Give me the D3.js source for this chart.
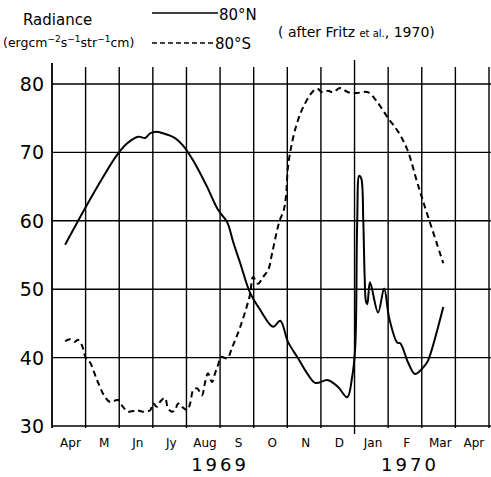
<!DOCTYPE html>
<html><head><meta charset="utf-8">
<script src="https://cdn.jsdelivr.net/npm/d3@7"></script>
<style>body{margin:0;background:#fff}svg{display:block}text{font-family:"DejaVu Sans",sans-serif;fill:#000}</style>
</head><body>
<script>
// month index: 0 = start of Apr 1969, 13 = end of Apr 1970
const monthLabels = ["Apr","M","Jn","Jy","Aug","S","O","N","D","Jan","F","Mar","Apr"];
const yTicks = [30,40,50,60,70,80];
const yearLabels = [{label:"1969", m:5.0},{label:"1970", m:10.65}];

const northMonth = [0.39,0.98,1.52,1.93,2.23,2.56,2.77,2.92,3.07,3.30,3.66,3.90,4.20,4.61,4.94,5.21,5.39,5.60,5.89,6.19,6.58,6.79,7.02,7.32,7.59,7.83,8.21,8.51,8.78,8.93,9.02,9.08,9.14,9.20,9.26,9.30,9.34,9.38,9.46,9.70,9.88,10.03,10.27,10.36,10.60,10.80,11.10,11.19,11.64];
const northValue = [56.5,61.8,66.4,69.6,71.3,72.3,72.1,72.8,73.0,72.8,72.1,71.0,68.8,65.0,61.6,59.8,56.9,53.8,49.5,47.0,44.5,45.4,42.3,39.9,37.7,36.3,36.7,35.7,34.2,37.2,41.5,60.0,66.6,66.2,60.0,52.0,48.2,47.8,51.0,46.6,50.1,45.8,42.2,42.1,39.2,37.6,38.9,39.6,47.4];

const southMonth = [0.39,0.54,0.68,0.77,0.89,1.01,1.13,1.34,1.58,1.73,1.96,2.11,2.26,2.53,2.71,2.92,3.01,3.12,3.21,3.36,3.45,3.57,3.66,3.75,3.87,4.02,4.11,4.20,4.32,4.46,4.55,4.64,4.76,4.85,4.94,5.03,5.21,5.36,5.60,5.89,5.98,6.13,6.28,6.43,6.55,6.70,6.79,6.88,6.96,7.02,7.14,7.29,7.47,7.74,7.89,8.04,8.21,8.36,8.57,8.81,9.08,9.40,9.67,10.00,10.30,10.57,10.86,11.01,11.64];
const southValue = [42.4,42.7,42.3,42.6,41.8,39.9,39.3,36.7,34.2,33.5,33.8,32.8,32.1,32.3,32.1,32.3,33.3,32.8,33.5,34.1,32.6,32.1,32.3,33.3,32.8,32.3,33.3,35.2,35.5,34.5,36.3,37.7,36.4,37.7,38.9,40.1,39.9,41.5,44.5,49.2,51.8,50.8,51.8,52.8,55.3,58.7,60.3,61.3,63.5,67.9,71.4,74.3,76.6,78.8,79.3,78.8,79.0,78.8,79.4,78.8,78.7,78.8,77.4,75.0,73.0,70.4,65.7,63.3,53.8];

const W = 491, H = 477;
const svg = d3.select("body").append("svg").attr("width", W).attr("height", H);

const x = d3.scaleLinear().domain([0, 13]).range([52, 489]);
const y = d3.scaleLinear().domain([30, 80]).range([426, 84]);

const g = svg.append("g").attr("stroke", "#000").attr("fill", "none");

// horizontal grid lines
g.selectAll(".h").data(yTicks).join("line")
  .attr("x1", x(0)).attr("x2", x(13)+2)
  .attr("y1", d => y(d)).attr("y2", d => y(d))
  .attr("stroke-width", 1.4);

// vertical grid lines (month boundaries)
const vlines = d3.range(0, 14);
g.selectAll(".v").data(vlines).join("line")
  .attr("x1", d => x(d)).attr("x2", d => x(d))
  .attr("y1", d => d === 0 ? 63 : (d === 9 ? 60 : 67))
  .attr("y2", d => d === 9 ? 434 : 428)
  .attr("stroke-width", d => d === 0 ? 1.8 : 1.4);

// y tick labels
svg.selectAll(".yl").data(yTicks).join("text")
  .attr("x", 44).attr("y", d => y(d) + 7)
  .attr("text-anchor", "end").attr("font-size", 19)
  .text(d => d);

// month labels
svg.selectAll(".ml").data(monthLabels).join("text")
  .attr("x", (d, i) => x(i + 0.55)).attr("y", 447)
  .attr("text-anchor", "middle").attr("font-size", 12)
  .text(d => d);

// year labels
svg.selectAll(".yr").data(yearLabels).join("text")
  .attr("x", d => x(d.m)).attr("y", 471)
  .attr("text-anchor", "middle").attr("font-size", 18).attr("letter-spacing", 3)
  .text(d => d.label);

const line = d3.line().x(d => x(d[0])).y(d => y(d[1])).curve(d3.curveCatmullRom.alpha(0.5));

svg.append("path")
  .attr("d", line(d3.zip(northMonth, northValue)))
  .attr("fill", "none").attr("stroke", "#000").attr("stroke-width", 2);

svg.append("path")
  .attr("d", line(d3.zip(southMonth, southValue)))
  .attr("fill", "none").attr("stroke", "#000").attr("stroke-width", 2)
  .attr("stroke-dasharray", "6,4");

// title / legend
svg.append("text").attr("x", 23).attr("y", 25).attr("font-size", 15).text("Radiance");
const unit = svg.append("text").attr("x", 3).attr("y", 47).attr("font-size", 12.5);
unit.append("tspan").text("(ergcm");
unit.append("tspan").attr("font-size", 9).attr("dy", -5).text("−2");
unit.append("tspan").attr("dy", 5).text("s");
unit.append("tspan").attr("font-size", 9).attr("dy", -5).text("−1");
unit.append("tspan").attr("dy", 5).text("str");
unit.append("tspan").attr("font-size", 9).attr("dy", -5).text("−1");
unit.append("tspan").attr("dy", 5).text("cm)");

svg.append("line").attr("x1", 152).attr("x2", 218).attr("y1", 13).attr("y2", 13)
  .attr("stroke", "#000").attr("stroke-width", 1.6);
svg.append("line").attr("x1", 152).attr("x2", 213).attr("y1", 43).attr("y2", 43)
  .attr("stroke", "#000").attr("stroke-width", 1.6).attr("stroke-dasharray", "5,3");
svg.append("text").attr("x", 219).attr("y", 20).attr("font-size", 15).text("80°N");
svg.append("text").attr("x", 215).attr("y", 49).attr("font-size", 15).text("80°S");

const cite = svg.append("text").attr("x", 278).attr("y", 37).attr("font-size", 14);
cite.append("tspan").text("( after Fritz ");
cite.append("tspan").attr("font-size", 10).text("et al.");
cite.append("tspan").text(", 1970)");
</script>
</body></html>
